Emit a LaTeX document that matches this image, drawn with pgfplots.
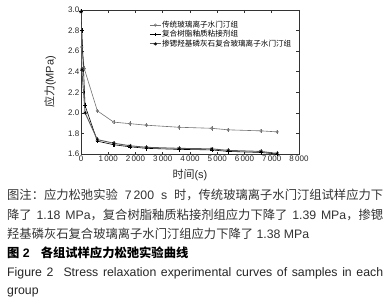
\documentclass[border=0pt]{standalone}
\usepackage{fontspec}
\setmainfont{Liberation Sans}
\newfontfamily\cjk{Noto Sans CJK SC}
\usepackage{pgfplots}
\pgfplotsset{compat=1.18}

\begin{document}
\begin{tikzpicture}[x=1bp,y=1bp]
\path[use as bounding box] (0,0) rectangle (387,-298);
\begin{axis}[
  at={(81bp,-154bp)}, anchor=south west,
  scale only axis, width=218bp, height=144bp,
  xmin=0, xmax=8000, ymin=1.6, ymax=3.0,
  xtick={0,1000,2000,3000,4000,5000,6000,7000,8000},
  xticklabels={0,1\,000,2\,000,3\,000,4\,000,5\,000,6\,000,7\,000,8\,000},
  ytick={1.6,1.8,2.0,2.2,2.4,2.6,2.8,3.0},
  yticklabels={1.6,1.8,2.0,2.2,2.4,2.6,2.8,3.0},
  tick align=inside, major tick length=2.5bp,
  tick style={black!80, line width=0.5bp},
  axis line style={black!80, line width=0.6bp},
  tick label style={font=\fontsize{8bp}{9bp}\selectfont, text=black!85},
  xticklabel style={inner sep=1.5bp},
  yticklabel style={inner sep=1.5bp},
  every axis x label/.style={at={(axis description cs:0.5,0)}, anchor=center, yshift=-21bp, font=\fontsize{11bp}{12bp}\selectfont, text=black!85},
  every axis y label/.style={at={(axis description cs:0,0.5)}, anchor=center, xshift=-31bp, rotate=90, font=\fontsize{11bp}{12bp}\selectfont, text=black!85},
  xlabel={{\cjk 时间}(s)},
  ylabel={{\cjk 应力}(MPa)},
  legend style={at={(axis description cs:0.313,0.929)}, anchor=north west, draw=none, fill=none,
    font=\fontsize{7.6bp}{8bp}\selectfont, inner sep=0pt, row sep=0pt,
    nodes={inner sep=0.8bp, text height=6.2bp, text depth=1.6bp},
    /tikz/every even column/.append style={column sep=3bp}},
  legend cell align=left,
  legend image code/.code={\draw[mark repeat=2,mark phase=2,#1] plot coordinates {(0bp,0bp) (5.5bp,0bp) (11bp,0bp)};},
]
\addplot[black!55, line width=0.6bp, mark=o, mark size=1.3bp, mark options={solid, line width=0.5bp},
  error bars/.cd, y dir=both, y fixed=0.022, error mark=none] coordinates {
(0,2.99) (30,2.64) (120,2.43) (600,2.02) (1200,1.91) (1800,1.895) (2400,1.88)
(3600,1.86) (4800,1.85) (5400,1.835) (6600,1.825) (7200,1.815)
};
\addlegendentry{{\cjk 传统玻璃离子水门汀组}}
\addplot[black, line width=0.6bp, mark=+, mark size=1.8bp, mark options={solid, line width=0.5bp},
  error bars/.cd, y dir=both, y fixed=0.022, error mark=none] coordinates {
(0,2.99) (30,2.80) (150,2.07) (600,1.725) (1200,1.69) (1800,1.67) (2400,1.655)
(3600,1.645) (4800,1.64) (5400,1.625) (6600,1.615) (7200,1.60)
};
\addlegendentry{{\cjk 复合树脂釉质粘接剂组}}
\addplot[black!65, line width=0.9bp, mark=asterisk, mark size=1.8bp, mark options={solid, black, line width=0.5bp},
  error bars/.cd, y dir=both, y fixed=0.022, error mark=none] coordinates {
(0,2.98) (30,2.42) (150,2.00) (600,1.74) (1200,1.705) (1800,1.68) (2400,1.665)
(3600,1.655) (4800,1.65) (5400,1.635) (6600,1.625) (7200,1.605)
};
\addlegendentry{{\cjk 掺锶羟基磷灰石复合玻璃离子水门汀组}}
\end{axis}
\begin{scope}[every node/.style={anchor=base west, inner sep=0pt, font=\fontsize{12.3bp}{14bp}\selectfont}]
\node[text=black!80] at (7,-199.5) {\makebox[376bp][s]{{\cjk 图注：应力松弛实验} 7\,200 s {\cjk 时，传统玻璃离子水门汀组试样应力下}}};
\node[text=black!80] at (7,-219.5) {\makebox[376bp][s]{{\cjk 降了} 1.18 MPa{\cjk ，复合树脂釉质粘接剂组应力下降了} 1.39 MPa{\cjk ，掺锶}}};
\node[text=black!80] at (7,-238.5) {{\cjk 羟基磷灰石复合玻璃离子水门汀组应力下降了} 1.38 MPa};
\node[text=black] at (7,-257.5) {\bfseries{\cjk\bfseries 图} 2\hspace{11bp}{\cjk\bfseries 各组试样应力松弛实验曲线}};
\node[text=black!85] at (7,-276.5) {\makebox[376bp][s]{Figure 2\hspace{10bp}Stress relaxation experimental curves of samples in each}};
\node[text=black!85] at (7,-294.5) {group};
\end{scope}
\end{tikzpicture}
\end{document}
